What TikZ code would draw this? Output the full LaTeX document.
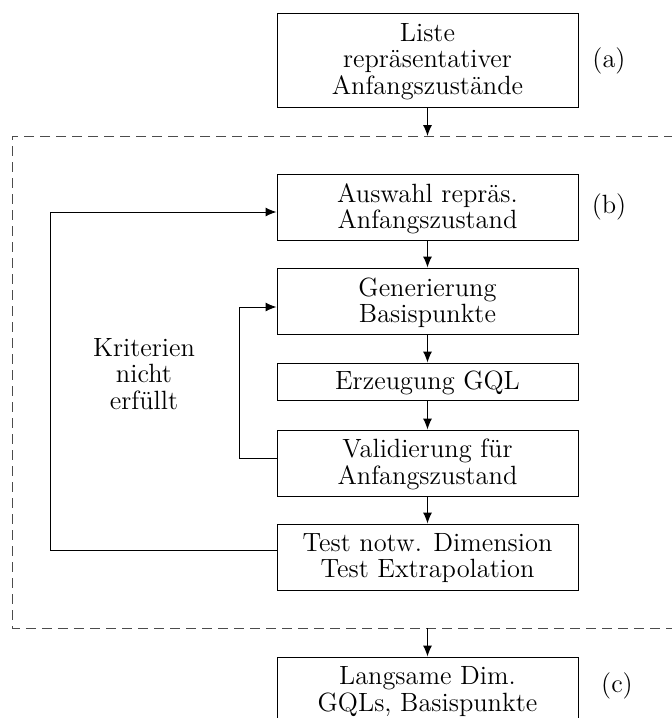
\documentclass[tikz,border=0pt]{standalone}
\usetikzlibrary{arrows.meta}
\newcommand\stx[1]{\raisebox{-1.4pt}[\height][\depth]{\begin{tabular}{@{}c@{}}#1\end{tabular}}}
\begin{document}
\begin{tikzpicture}[x=0.5pt,y=-0.5pt,
  font=\fontsize{13.2}{12.8}\selectfont,
  box/.style={draw,line width=0.5pt,minimum width=150.5pt,align=center,inner sep=0pt},
  conn/.style={line width=0.5pt,-{Latex[length=5.5pt,width=4.5pt]}},
  lbl/.style={inner sep=0pt}]
\useasboundingbox (0,0) rectangle (672,718);
\clip (0,0) rectangle (672,718);
\draw[dashed,dash pattern=on 5pt off 3pt,black!70,line width=0.5pt] (690,136) -- (12,136) -- (12,628) -- (690,628);
\node[box,minimum height=47pt] (a) at (427.5,60) {\stx{Liste\\repräsentativer\\Anfangszustände}};
\node[lbl] (la) at (609,61) {(a)};
\node[box,minimum height=33pt] (b1) at (427.5,207) {\stx{Auswahl repräs.\\Anfangszustand}};
\node[lbl] (lb) at (609,207) {(b)};
\node[box,minimum height=33pt] (b2) at (427.5,301) {\stx{Generierung\\Basispunkte}};
\node[box,minimum height=18.5pt] (b3) at (427.5,381.5) {\stx{Erzeugung GQL}};
\node[box,minimum height=33pt] (b4) at (427.5,463) {\stx{Validierung für\\Anfangszustand}};
\node[box,minimum height=33pt] (b5) at (427.5,557) {\stx{Test notw. Dimension\\Test Extrapolation}};
\node[box,minimum height=33pt] (c) at (427.5,690) {\stx{Langsame Dim.\\GQLs, Basispunkte}};
\node[lbl] (lc) at (617,686) {(c)};
\node[lbl] (krit) at (144,375) {\stx{Kriterien\\nicht\\erfüllt}};
\coordinate (dtop) at (427.5,136);
\coordinate (dbot) at (427.5,628);
\draw[conn] (a.south) -- (dtop);
\draw[conn] (b1.south) -- (b2.north);
\draw[conn] (b2.south) -- (b3.north);
\draw[conn] (b3.south) -- (b4.north);
\draw[conn] (b4.south) -- (b5.north);
\draw[conn] (dbot) -- (c.north);
\draw[conn] (b5.west |- 0,550) -- (50,550) -- (50,212) -- (b1.west |- 0,212);
\draw[conn] (b4.west |- 0,458) -- (239,458) -- (239,307) -- (b2.west |- 0,307);
\end{tikzpicture}
\end{document}
